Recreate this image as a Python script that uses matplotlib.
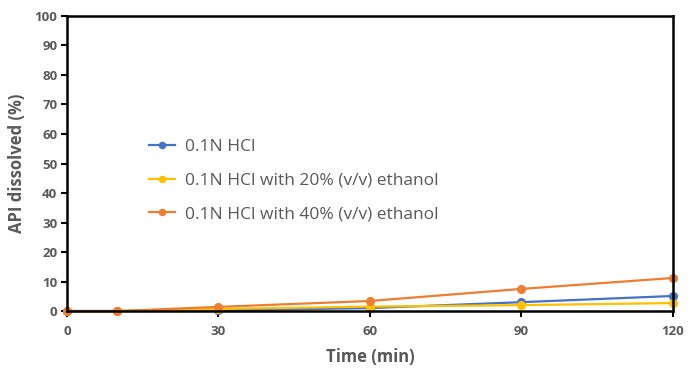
import matplotlib
matplotlib.use("Agg")
import matplotlib.pyplot as plt

plt.rcParams['font.family'] = ['Open Sans', 'DejaVu Sans']

time = [0, 10, 30, 60, 90, 120]
hcl = [0, 0, 0.2, 1.0, 3.0, 5.1]
eth20 = [0, 0, 0.7, 1.5, 2.0, 2.7]
eth40 = [0, 0, 1.4, 3.4, 7.5, 11.2]
labels = ["0.1N HCl", "0.1N HCl with 20% (v/v) ethanol", "0.1N HCl with 40% (v/v) ethanol"]
colors = ["#4472C4", "#FFC000", "#ED7D31"]
xticks = [0, 30, 60, 90, 120]
yticks = list(range(0, 101, 10))

fig = plt.figure(figsize=(6.92, 3.77), dpi=100)
ax = fig.add_axes([0.0968, 0.175, 0.8757, 0.7826])
for ys, lab, c in zip([hcl, eth20, eth40], labels, colors):
    ax.plot(time, ys, color=c, lw=1.6, marker='o', ms=5.5, label=lab, clip_on=False)

ax.set_xlim(0, 120)
ax.set_ylim(0, 100)
ax.set_xticks(xticks)
ax.set_yticks(yticks)
gray = '#595959'
for lab in ax.get_xticklabels() + ax.get_yticklabels():
    lab.set_fontweight('bold')
    lab.set_color(gray)
    lab.set_fontsize(9.5)
for s in ax.spines.values():
    s.set_color('black')
    s.set_linewidth(1.8)
ax.tick_params(axis='y', direction='out', length=4, width=1.5, pad=3)
ax.tick_params(axis='x', direction='out', length=4, width=1.5, pad=6)
ax.set_xlabel("Time (min)", fontsize=12, fontweight='bold', color=gray, labelpad=7)
ax.set_ylabel("API dissolved (%)", fontsize=12, fontweight='bold', color=gray, labelpad=6)

leg = ax.legend(loc='upper left', bbox_to_anchor=(0.11, 0.635), frameon=False,
                fontsize=12.5, labelspacing=1.0, handlelength=1.5, handletextpad=0.55,
                markerscale=0.8)
for t in leg.get_texts():
    t.set_color(gray)

fig.savefig("out.png", dpi=100)
